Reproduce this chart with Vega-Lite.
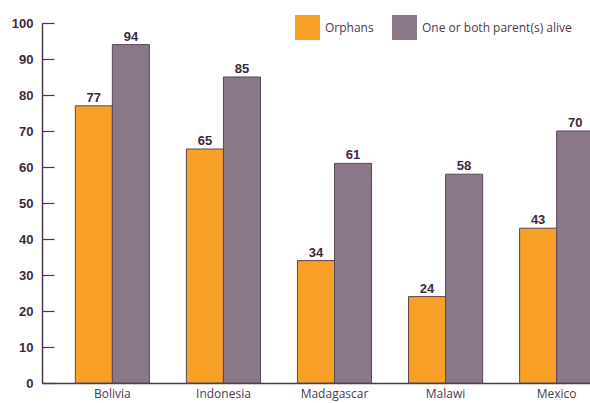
{
  "$schema": "https://vega.github.io/schema/vega-lite/v6.json",
  "autosize": "none",
  "padding": {"left": 42, "top": 23, "right": 0, "bottom": 20},
  "width": 585,
  "height": 360,
  "background": "white",
  "data": {"values": [
    {"country": "Bolivia", "group": "Orphans", "value": 77},
    {"country": "Bolivia", "group": "One or both parent(s) alive", "value": 94},
    {"country": "Indonesia", "group": "Orphans", "value": 65},
    {"country": "Indonesia", "group": "One or both parent(s) alive", "value": 85},
    {"country": "Madagascar", "group": "Orphans", "value": 34},
    {"country": "Madagascar", "group": "One or both parent(s) alive", "value": 61},
    {"country": "Malawi", "group": "Orphans", "value": 24},
    {"country": "Malawi", "group": "One or both parent(s) alive", "value": 58},
    {"country": "Mexico", "group": "Orphans", "value": 43},
    {"country": "Mexico", "group": "One or both parent(s) alive", "value": 70}
  ]},
  "encoding": {
    "x": {"field": "country", "type": "nominal", "sort": null,
      "scale": {"paddingInner": 0.333, "paddingOuter": 0.3},
      "axis": {"title": null, "labelAngle": 0, "ticks": false, "domainColor": "#4b3a4d", "domainWidth": 1.5,
        "labelFont": "Open Sans", "labelFontSize": 12, "labelColor": "#4b3a4d", "labelPadding": 5}},
    "xOffset": {"field": "group", "type": "nominal", "sort": ["Orphans", "One or both parent(s) alive"],
      "scale": {"paddingInner": 0, "paddingOuter": 0}},
    "y": {"field": "value", "type": "quantitative",
      "scale": {"domain": [0, 100], "nice": false},
      "axis": {"title": null, "values": [0,10,20,30,40,50,60,70,80,90,100], "grid": false,
        "tickSize": -12, "tickColor": "#4b3a4d", "tickWidth": 1.2, "domainColor": "#4b3a4d", "domainWidth": 1.5,
        "labelFont": "Liberation Sans", "labelFontWeight": "bold", "labelFontSize": 13, "labelColor": "#3d2a3f", "labelPadding": 21}}
  },
  "layer": [
    {"mark": {"type": "bar", "stroke": "#5a4658", "strokeWidth": 1},
     "encoding": {
       "color": {"field": "group", "type": "nominal",
         "scale": {"domain": ["Orphans", "One or both parent(s) alive"], "range": ["#f89f27", "#8a7788"]},
         "legend": {"title": null, "orient": "none", "legendX": 253, "legendY": -8, "direction": "horizontal",
           "symbolType": "square", "symbolSize": 625, "symbolStrokeWidth": 0, "symbolOpacity": 1,
           "labelFont": "Open Sans", "labelFontSize": 12, "labelColor": "#4b3a4d", "labelOffset": 5, "columnPadding": 18}}
     }},
    {"mark": {"type": "text", "dy": -4, "font": "Liberation Sans", "fontWeight": "bold", "fontSize": 13, "color": "#3d2a3f", "baseline": "alphabetic"},
     "encoding": {"text": {"field": "value", "type": "quantitative"}}}
  ],
  "config": {"view": {"stroke": null}}
}
